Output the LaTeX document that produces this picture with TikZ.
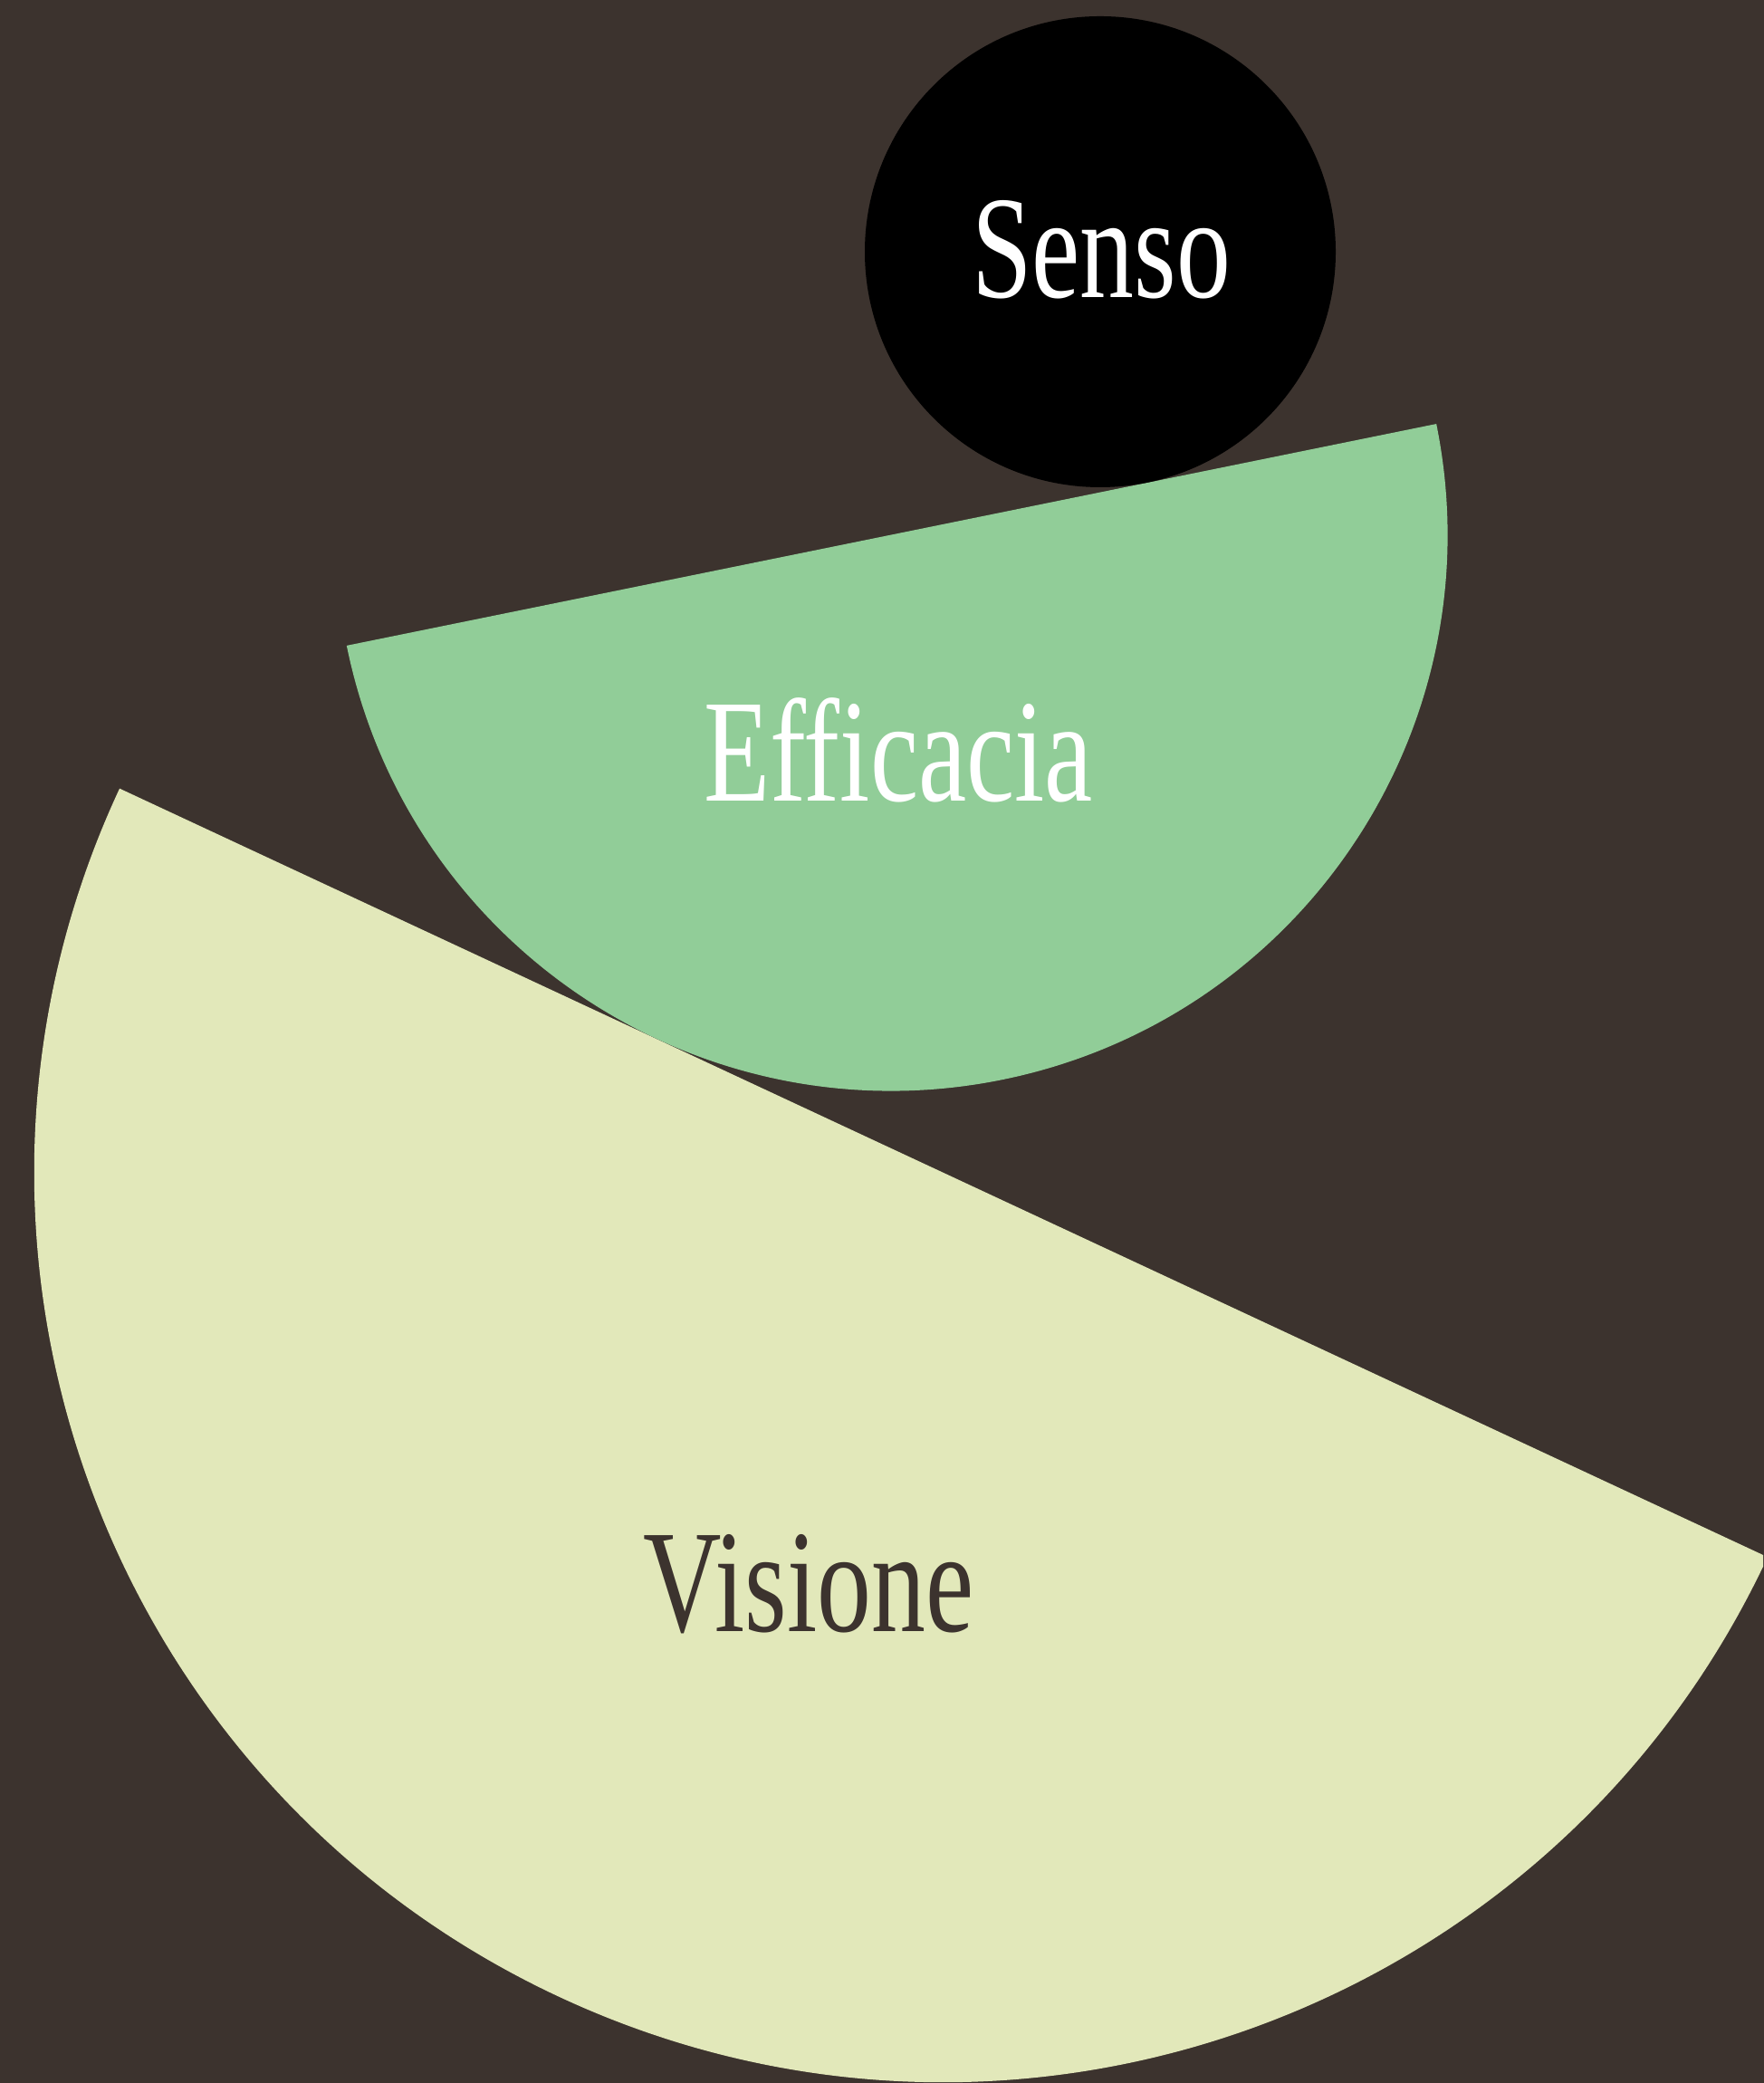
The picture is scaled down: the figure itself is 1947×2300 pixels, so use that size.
\documentclass[tikz,border=0pt]{standalone}
\usepackage{fontspec}
\setmainfont[FakeStretch=0.74]{Liberation Serif}
\definecolor{bgbrown}{HTML}{3C332E}
\definecolor{effgreen}{HTML}{91CD98}
\definecolor{vislight}{HTML}{E2E8BA}
\tikzset{
  word/.style={anchor=base, inner sep=0pt, font=\fontsize{46}{50}\selectfont},
}
\begin{document}
\begin{tikzpicture}[x=0.01cm,y=0.01cm]
	\useasboundingbox (0,0) rectangle (1947,2300);
	\fill [bgbrown] (-5,-5) rectangle (1952,2305);
	\clip (0,0) rectangle (1947,2300);
	\coordinate (vc) at (1042,1005);
	\coordinate (ec) at (984.5,1709.5);
	\coordinate (sc) at (1215,2022);
	\fill [vislight] (vc) ++(155:1004) arc [start angle=155, end angle=335, radius=1004] -- cycle;
	\fill [effgreen] (ec) ++(191.5:614) arc [start angle=191.5, end angle=371.5, radius=614] -- cycle;
	\fill [black] (sc) circle [radius=260];
	\node [word, text=white] (senso) at (1216,1971) {Senso};
	\node [word, text=white] (efficacia) at (992,1415) {Efficacia};
	\node [word, text=bgbrown] (visione) at (893,498) {Visione};
\end{tikzpicture}
\end{document}
